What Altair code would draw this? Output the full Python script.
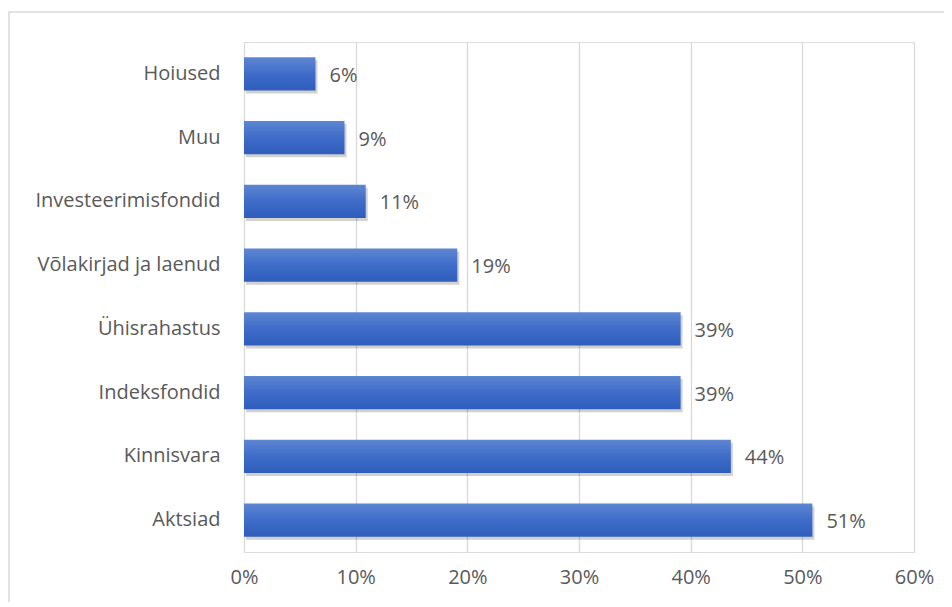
import altair as alt
import pandas as pd

categories = ["Hoiused", "Muu", "Investeerimisfondid", "Võlakirjad ja laenud",
              "Ühisrahastus", "Indeksfondid", "Kinnisvara", "Aktsiad"]
values = [0.064, 0.090, 0.109, 0.191, 0.391, 0.391, 0.436, 0.509]
labels = ["6%", "9%", "11%", "19%", "39%", "39%", "44%", "51%"]

df = pd.DataFrame({"cat": categories, "val": values, "lab": labels})

FONT = "Open Sans"
FS = 20
GREY = "#595959"

y_enc = alt.Y("cat:N", sort=categories, title=None,
              scale=alt.Scale(paddingInner=0.48, paddingOuter=0.24),
              axis=alt.Axis(labelFontSize=FS, labelColor=GREY, labelFont=FONT,
                            labelLimit=400,
                            ticks=False, domain=False, labelPadding=24, grid=False))
x_enc = alt.X("val:Q", title=None,
              scale=alt.Scale(domain=[0, 0.6]),
              axis=alt.Axis(format=".0%", values=[0, .1, .2, .3, .4, .5, .6],
                            labelFontSize=FS, labelColor=GREY, labelFont=FONT,
                            ticks=False, domain=False, labelPadding=15,
                            grid=True, gridColor="#d9d9d9", gridWidth=1.3,
                            labelFlush=False))

base = alt.Chart(df)

border = base.mark_rect(fill=None, stroke="#d9d9d9", strokeWidth=1.5).encode(
    x=alt.value(-235), x2=alt.value(708), y=alt.value(-30), y2=alt.value(570)
).transform_filter("datum.cat == 'Aktsiad'")

shadow = base.mark_bar(color="#000000", opacity=0.18, yOffset=3, xOffset=2).encode(
    y=y_enc, x=x_enc)

bars = base.mark_bar(
    color=alt.Gradient(
        gradient="linear",
        stops=[alt.GradientStop(color="#5d86d2", offset=0),
               alt.GradientStop(color="#3f6cc9", offset=0.5),
               alt.GradientStop(color="#2e5dbb", offset=1)],
        x1=0, x2=0, y1=0, y2=1),
).encode(y=y_enc, x=x_enc)

text = base.mark_text(align="left", baseline="middle", dx=14, dy=2,
                      fontSize=FS, font=FONT, color=GREY).encode(
    y=alt.Y("cat:N", sort=categories), x="val:Q", text="lab:N")

chart = alt.layer(border, shadow, bars, text).properties(
    width=670, height=510,
    autosize=alt.AutoSizeParams(type="none"),
    padding={"left": 236, "top": 34, "right": 30, "bottom": 50},
).configure_view(stroke=None).configure(background="white")

chart.save("out.html", embed_options={"renderer": "svg", "actions": False})
